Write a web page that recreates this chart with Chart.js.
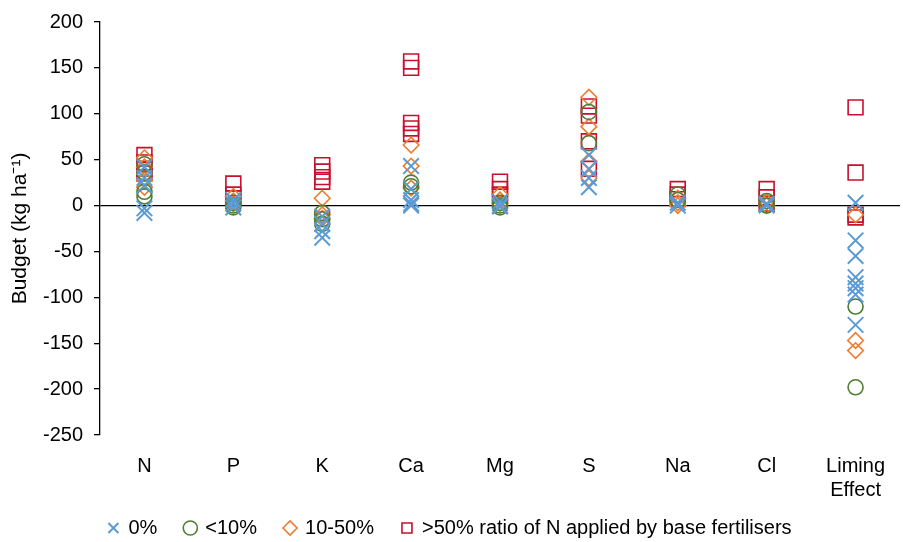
<!DOCTYPE html>
<html>
<head>
<meta charset="utf-8">
<script src="https://cdn.jsdelivr.net/npm/chart.js@4.4.1/dist/chart.umd.min.js"></script>
<style>
  html, body { margin: 0; padding: 0; background: #fff; }
  #wrap { width: 903px; height: 542px; }
</style>
</head>
<body>
<div id="wrap"><canvas id="grafico" width="903" height="542"></canvas></div>
<script>
// ===============================
//  DATI
// ===============================
const categories = ["N", "P", "K", "Ca", "Mg", "S", "Na", "Cl", ["Liming", "Effect"]];
const catKeys = ["N", "P", "K", "Ca", "Mg", "S", "Na", "Cl", "Liming Effect"];
const yTicks = [200, 150, 100, 50, 0, -50, -100, -150, -200, -250];

// one list of points per category, in category order
const ratio0 = [
  [42, 30, 22, -3, -8],
  [6, 2, -2],
  [-12, -20, -28, -35],
  [43, 18, 6, 2, 0],
  [4, 0, -1],
  [55, 40, 30, 20],
  [3, 0],
  [2, 0],
  [3, -38, -55, -78, -85, -90, -97, -130]
];
const ratioLt10 = [
  [45, 36, 15, 10],
  [3, 0, -2],
  [-8, -15, -20],
  [25, 21],
  [3, 0, -2],
  [102, 68],
  [12, 6],
  [5, 0],
  [-110, -198]
];
const ratio10to50 = [
  [52, 42, 28, 20],
  [10, 5, 2],
  [8, -10, -14],
  [66, 43, 19],
  [12, 6, 2],
  [118, 86, 48, 30],
  [8, 3, 0],
  [4, 0],
  [-10, -147, -158]
];
const ratioGt50 = [
  [55, 47, 40, 35],
  [24, 12, 8],
  [44, 37, 31, 26],
  [157, 150, 90, 84, 78],
  [26, 18, 12],
  [108, 98, 70, 40],
  [18, 12, 7],
  [18, 9, 2],
  [107, 36, -10, -13]
];

const toPoints = groups => groups.flatMap((vals, i) => vals.map(v => ({ x: catKeys[i], y: v })));

// ===============================
//  GRAFICO
// ===============================
const font = { family: "'Liberation Sans', Arial, sans-serif", size: 20 };
const LEGEND_H = 37;
const LEGEND_TEXT_Y = 528;

// sposta la legenda in alto dopo il layout (senza cambiare l'area del grafico)
const legendShift = {
  id: "legendShift",
  afterLayout(chart) {
    const lg = chart.legend;
    const pad = lg.options.labels.padding;
    const top = LEGEND_TEXT_Y - 10 - pad;
    lg.top = top;
    lg.bottom = chart.height;
    lg.height = chart.height - top;
  }
};

const ctx = document.getElementById("grafico").getContext("2d");

const chart = new Chart(ctx, {
  type: "scatter",
  plugins: [legendShift],
  data: {
    labels: catKeys,
    datasets: [
      {
        label: "0%",
        data: toPoints(ratio0),
        pointStyle: "crossRot",
        pointRadius: 11,
        pointBorderWidth: 2,
        borderColor: "#5B9BD5",
        backgroundColor: "#5B9BD5"
      },
      {
        label: "<10%",
        data: toPoints(ratioLt10),
        pointStyle: "circle",
        pointRadius: 7.5,
        pointBorderWidth: 1.6,
        borderColor: "#4F7D33",
        backgroundColor: "rgba(0,0,0,0)"
      },
      {
        label: "10-50%",
        data: toPoints(ratio10to50),
        pointStyle: "rectRot",
        pointRadius: 7.8,
        pointBorderWidth: 1.6,
        borderColor: "#ED7D31",
        backgroundColor: "rgba(0,0,0,0)"
      },
      {
        label: ">50% ratio of N applied by base fertilisers",
        data: toPoints(ratioGt50),
        pointStyle: "rect",
        pointRadius: 10.5,
        pointBorderWidth: 1.6,
        borderColor: "#C8102E",
        backgroundColor: "rgba(0,0,0,0)"
      }
    ]
  },
  options: {
    responsive: false,
    animation: false,
    layout: { autoPadding: false, padding: { top: 22, right: 3, left: 0, bottom: 0 } },
    scales: {
      x: {
        type: "category",
        labels: catKeys,
        offset: true,
        grid: { display: false },
        border: { display: false },
        ticks: {
          color: "#000",
          font,
          padding: 11,
          maxRotation: 0,
          callback: (v, i) => categories[i]
        },
        afterFit: s => { s.height = 70; s.paddingLeft = 0; s.paddingRight = 0; }
      },
      y: {
        min: -250,
        max: 200,
        afterBuildTicks: s => { s.ticks = yTicks.map(v => ({ value: v })); },
        grid: {
          color: c => (c.tick && c.tick.value === 0 ? "#000" : "rgba(0,0,0,0)"),
          tickColor: "#000",
          tickLength: 6,
          lineWidth: 1.3
        },
        border: { display: true, color: "#000", width: 1.3 },
        ticks: { color: "#000", font, padding: 11 },
        title: {
          display: true,
          text: "Budget (kg ha\u207B\u00B9)",
          color: "#000",
          font: { family: font.family, size: 21 },
          padding: { top: 8, bottom: 0 }
        },
        afterFit: s => { s.width = 100; s.paddingTop = 0; s.paddingBottom = 0; }
      }
    },
    plugins: {
      legend: {
        position: "bottom",
        labels: {
          color: "#000",
          font,
          usePointStyle: true,
          boxWidth: 10,
          boxHeight: 10,
          padding: 28
        }
      },
      tooltip: { enabled: false }
    }
  }
});

// legenda: spazio orizzontale largo, altezza ridotta
const origFit = chart.legend.fit;
chart.legend.fit = function () {
  origFit.call(this);
  this.height = LEGEND_H;
};
chart.update();
</script>
</body>
</html>
